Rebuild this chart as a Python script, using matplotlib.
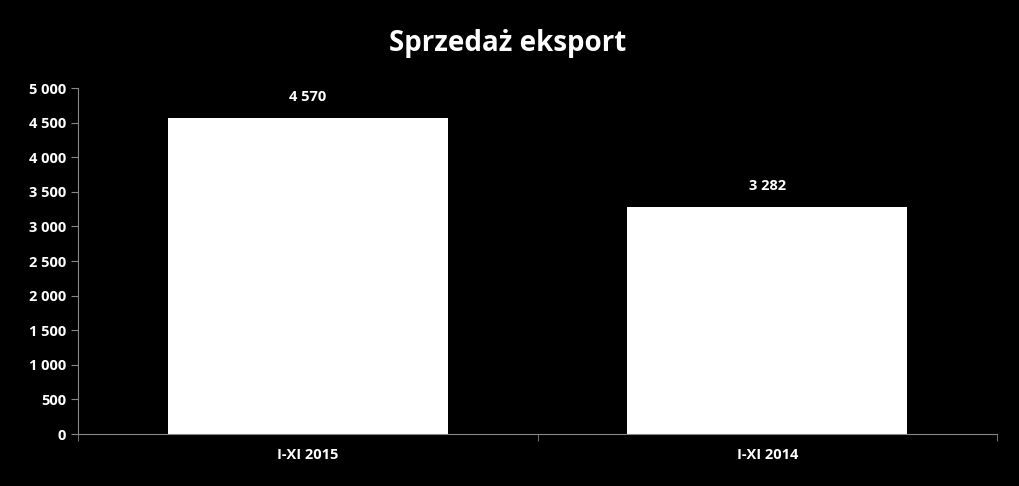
import matplotlib
matplotlib.use("Agg")
import matplotlib.pyplot as plt
from matplotlib.ticker import FuncFormatter, FixedLocator

categories = ["I-XI 2015", "I-XI 2014"]
values = [4570, 3282]
title = "Sprzedaż eksport"

plt.rcParams['font.family'] = ['Open Sans', 'DejaVu Sans']
fig = plt.figure(figsize=(10.19, 4.86), dpi=100, facecolor='black')
ax = fig.add_axes([78/1019, 1-434/486, 919/1019, 346/486], facecolor='black')
x = list(range(len(categories)))
ax.bar(x, values, width=0.61, color='white')
ax.set_xlim(-0.5, len(categories)-0.5)
ax.set_ylim(0, 5000)
ax.set_yticks(range(0, 5001, 500))
fmt = lambda v, p: f"{int(v):,}".replace(",", " ")
ax.yaxis.set_major_formatter(FuncFormatter(fmt))
ax.set_xticks(x)
ax.set_xticklabels(categories)
ax.xaxis.set_minor_locator(FixedLocator([-0.5, 0.5, 1.5]))
ax.tick_params(axis='x', which='major', length=0, colors='white', labelsize=10.5, pad=10)
ax.tick_params(axis='x', which='minor', length=5, color='#888888')
ax.tick_params(axis='y', length=5, color='#888888', colors='white', labelsize=10.5)
for lab in ax.get_xticklabels() + ax.get_yticklabels():
    lab.set_fontweight('bold')
for s in ['top', 'right']:
    ax.spines[s].set_visible(False)
for s in ['left', 'bottom']:
    ax.spines[s].set_color('#888888')
for xi, v in zip(x, values):
    ax.annotate(fmt(v, None), (xi, v), xytext=(0, 10), textcoords='offset points',
                ha='center', va='bottom', color='white', fontsize=10.5, fontweight='bold')
fig.text(508/1019, 1-43/486, title, ha='center', va='center', color='white',
         fontsize=20, fontweight='bold')
fig.savefig("out.png", facecolor='black')
